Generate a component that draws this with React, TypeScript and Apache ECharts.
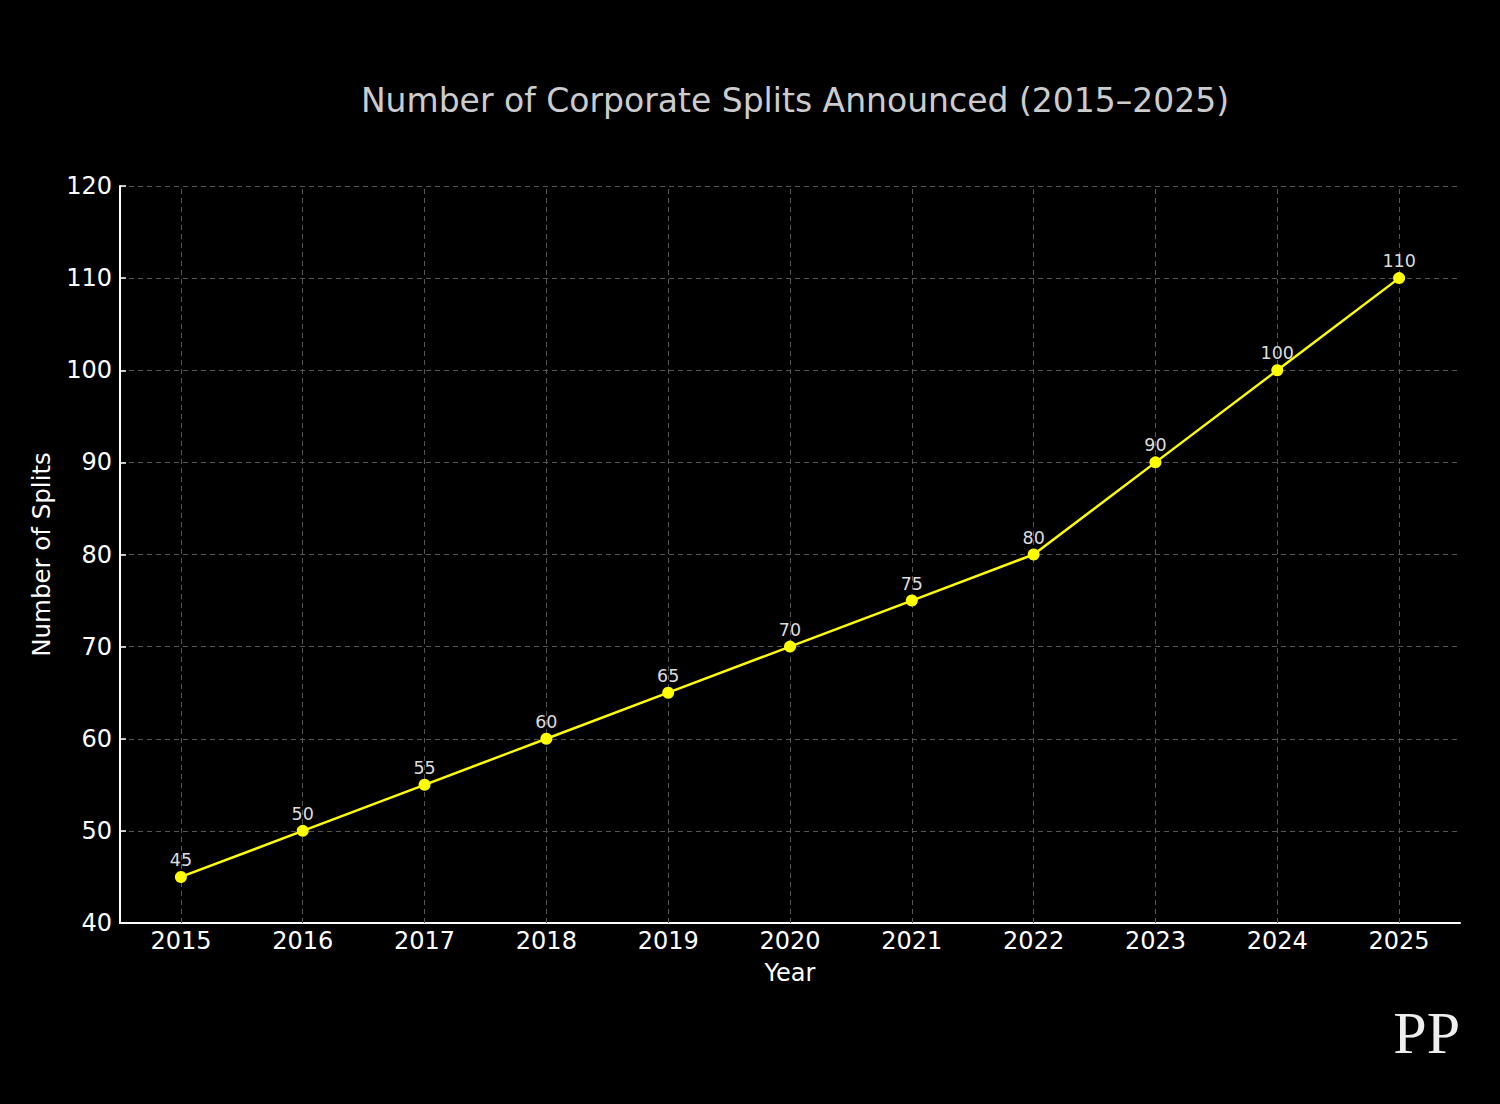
import React, { useEffect, useRef } from "react";
import * as echarts from "echarts";

const years = ["2015", "2016", "2017", "2018", "2019", "2020", "2021", "2022", "2023", "2024", "2025"];
const splits = [45, 50, 55, 60, 65, 70, 75, 80, 90, 100, 110];
const yTicks = { min: 40, max: 120, interval: 10 };

export default function App() {
  const ref = useRef<HTMLDivElement>(null);
  useEffect(() => {
    document.body.style.margin = "0";
    document.body.style.background = "#000";
    const chart = echarts.init(ref.current!, null, { renderer: "svg" });
    const font = "DejaVu Sans";
    chart.setOption({
      animation: false,
      backgroundColor: "#000000",
      title: {
        text: "Number of Corporate Splits Announced (2015–2025)",
        left: 790,
        textAlign: "center",
        top: 79,
        textStyle: { color: "#cccccc", fontFamily: font, fontSize: 33, fontWeight: "normal" },
      },
      grid: { left: 120, right: 40, top: 186, bottom: 181, containLabel: false },
      xAxis: {
        type: "category",
        data: years,
        boundaryGap: true,
        name: "Year",
        nameLocation: "middle",
        nameGap: 38,
        nameTextStyle: { color: "#ffffff", fontFamily: font, fontSize: 24 },
        axisLine: { lineStyle: { color: "#ffffff", width: 2 } },
        axisTick: { alignWithLabel: true, interval: 0, length: 6, inside: true, lineStyle: { color: "#ffffff", width: 1.5 } },
        axisLabel: { color: "#ffffff", fontFamily: font, fontSize: 24, margin: 6, interval: 0 },
        splitLine: { show: false },
      },
      yAxis: {
        type: "value",
        min: yTicks.min,
        max: yTicks.max,
        interval: yTicks.interval,
        name: "Number of Splits",
        nameLocation: "middle",
        nameGap: 66,
        nameTextStyle: { color: "#ffffff", fontFamily: font, fontSize: 24.5 },
        axisLine: { show: true, lineStyle: { color: "#ffffff", width: 2 } },
        axisTick: { show: true, length: 6, inside: true, lineStyle: { color: "#ffffff", width: 1.5 } },
        axisLabel: { color: "#ffffff", fontFamily: font, fontSize: 24, margin: 8 },
        splitLine: { show: true, lineStyle: { color: "#555555", type: [5, 4], width: 1 } },
      },
      series: [
        {
          type: "line",
          data: splits,
          symbol: "circle",
          symbolSize: 12,
          lineStyle: { color: "#ffff00", width: 2.5 },
          itemStyle: { color: "#ffff00" },
          label: {
            show: true,
            position: "top",
            distance: 2,
            color: "#dddddd",
            fontFamily: font,
            fontSize: 17.5,
          },
          z: 5,
          markLine: {
            silent: true,
            symbol: "none",
            label: { show: false },
            lineStyle: { color: "#555555", type: [5, 4], width: 1 },
            data: years.map((y) => ({ xAxis: y })),
            z: 1,
          },
        },
      ],
      graphic: [
        {
          type: "text",
          right: 40,
          top: 1003,
          style: {
            text: "PP",
            fill: "#eeeeee",
            fontFamily: "Liberation Serif",
            fontSize: 60,
            fontWeight: "normal",
          },
        },
      ],
    });
    return () => chart.dispose();
  }, []);
  return <div ref={ref} style={{ width: 1500, height: 1104 }} />;
}
